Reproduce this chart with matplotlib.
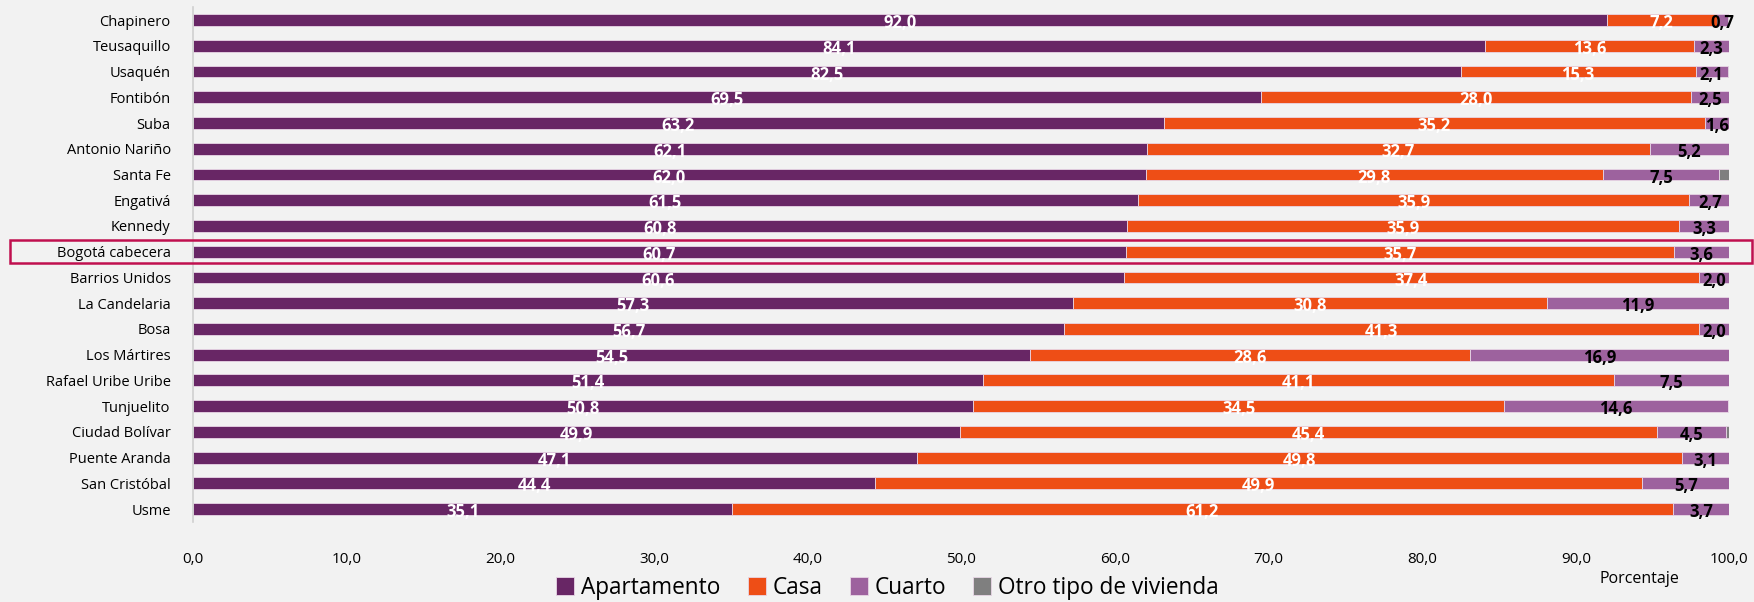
import matplotlib
matplotlib.use("Agg")
import matplotlib.pyplot as plt
from matplotlib.patches import Rectangle
import numpy as np

localidades = ["Chapinero", "Teusaquillo", "Usaquén", "Fontibón", "Suba", "Antonio Nariño",
               "Santa Fe", "Engativá", "Kennedy", "Bogotá cabecera", "Barrios Unidos",
               "La Candelaria", "Bosa", "Los Mártires", "Rafael Uribe Uribe", "Tunjuelito",
               "Ciudad Bolívar", "Puente Aranda", "San Cristóbal", "Usme"]
apartamento = [92.0, 84.1, 82.5, 69.5, 63.2, 62.1, 62.0, 61.5, 60.8, 60.7, 60.6,
               57.3, 56.7, 54.5, 51.4, 50.8, 49.9, 47.1, 44.4, 35.1]
casa = [7.2, 13.6, 15.3, 28.0, 35.2, 32.7, 29.8, 35.9, 35.9, 35.7, 37.4,
        30.8, 41.3, 28.6, 41.1, 34.5, 45.4, 49.8, 49.9, 61.2]
cuarto = [0.7, 2.3, 2.1, 2.5, 1.6, 5.2, 7.5, 2.7, 3.3, 3.6, 2.0,
          11.9, 2.0, 16.9, 7.5, 14.6, 4.5, 3.1, 5.7, 3.7]
otro = [0.1, 0.0, 0.1, 0.0, 0.0, 0.0, 0.7, 0.0, 0.0, 0.1, 0.0,
        0.0, 0.0, 0.0, 0.0, 0.0, 0.2, 0.0, 0.0, 0.0]
series_names = ["Apartamento", "Casa", "Cuarto", "Otro tipo de vivienda"]
xticks = [0, 10, 20, 30, 40, 50, 60, 70, 80, 90, 100]
highlight = "Bogotá cabecera"

colors = ["#682665", "#EE4E16", "#9D629E", "#7F7F7F"]
label_colors = ["white", "white", "black", None]
bg = "#F2F2F2"

plt.rcParams['font.family'] = ['Open Sans', 'DejaVu Sans']

fig = plt.figure(figsize=(17.54, 6.02), dpi=100, facecolor=bg)
ax = fig.add_axes([0.110, 0.133, 0.876, 0.855])
ax.set_facecolor(bg)

y = np.arange(len(localidades))
left = np.zeros(len(localidades))
data = [apartamento, casa, cuarto, otro]
for vals, name, col, lc in zip(data, series_names, colors, label_colors):
    vals = np.array(vals)
    ax.barh(y, vals, left=left, height=0.46, color=col, label=name,
            edgecolor="#e8d6e6", linewidth=0.6)
    if lc is not None:
        for yi, (l, v) in enumerate(zip(left, vals)):
            ax.text(l + v / 2, yi + 0.12, f"{v:.1f}".replace(".", ","),
                    ha="center", va="center", color=lc, fontsize=12,
                    fontweight="bold")
    left = left + vals

ax.set_xlim(0, 100)
ax.set_ylim(len(localidades) - 0.5, -0.5)
ax.set_yticks(y)
ax.set_yticklabels(localidades, fontsize=10.5)
ax.set_xticks(xticks)
ax.set_xticklabels([f"{t:.1f}".replace(".", ",") for t in xticks], fontsize=11)
ax.tick_params(axis="y", length=0, pad=16)
ax.tick_params(axis="x", length=0, pad=22)
for s in ["top", "right", "bottom"]:
    ax.spines[s].set_visible(False)
ax.spines["left"].set_color("#D0D0D0")
ax.spines["left"].set_linewidth(1.2)

# highlight box
hi = localidades.index(highlight)
rect = Rectangle((10 / 1754, 0), (1752 - 10) / 1754, 1, transform=fig.transFigure,
                 fill=False, edgecolor="#C0104F", linewidth=1.8)
y0 = ax.transData.transform((0, hi + 0.45))[1] / fig.bbox.height
y1 = ax.transData.transform((0, hi - 0.45))[1] / fig.bbox.height
rect.set_y(y0)
rect.set_height(y1 - y0)
fig.add_artist(rect)

fig.text(1639 / 1754, 1 - 579 / 602, "Porcentaje", ha="center", va="center", fontsize=11.5)

leg = fig.legend(loc="center", bbox_to_anchor=(0.506, 1 - 588 / 602), ncol=4,
                 frameon=False, fontsize=16.3, handlelength=0.8, handleheight=0.8,
                 handletextpad=0.3, columnspacing=1.2, borderaxespad=0)

fig.savefig("out.png", dpi=100, facecolor=bg)
